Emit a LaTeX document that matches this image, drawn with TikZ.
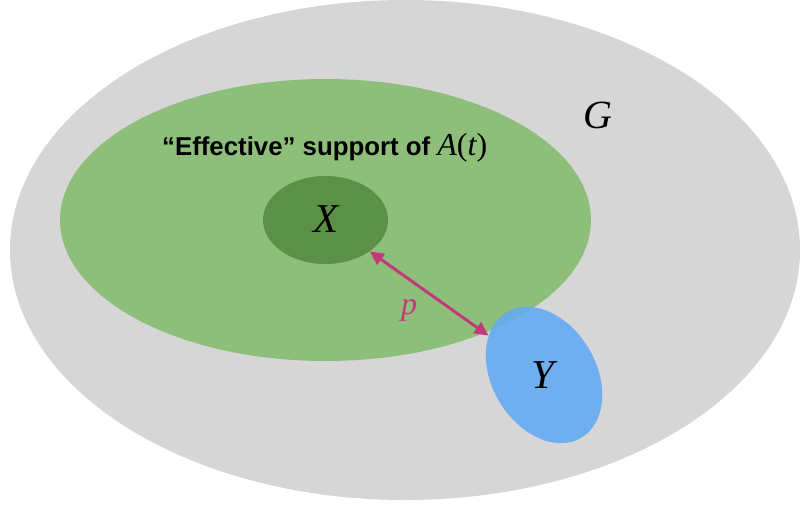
\documentclass[tikz,border=0pt]{standalone}
\usepackage{fontspec}
\setmainfont{Liberation Serif}
\newfontfamily\labelsans{Liberation Sans}
\usetikzlibrary{shapes.geometric,arrows.meta}
\definecolor{bggray}{RGB}{214,214,214}
\definecolor{suppgreen}{RGB}{141,191,122}
\definecolor{xgreen}{RGB}{91,145,70}
\definecolor{yblue}{RGB}{100,170,242}
\definecolor{pmag}{RGB}{194,58,122}
\tikzset{
  blob/.style={ellipse, inner sep=0pt, draw=none},
  biglabel/.style={font=\fontsize{41}{41}\selectfont\itshape, text=black, inner sep=0pt},
  distarrow/.style={pmag, line width=3pt, {Triangle[length=14pt,width=13pt]}-{Triangle[length=14pt,width=13pt]}},
}
\begin{document}
\begin{tikzpicture}[x=1pt,y=1pt]
\useasboundingbox (0,0) rectangle (800,507);
\begin{scope}
\clip (0,0) rectangle (800,507);
\node[blob, fill=bggray, minimum width=790pt, minimum height=500pt] (G) at (405,257) {};
\end{scope}
\node[blob, fill=suppgreen, minimum width=531pt, minimum height=282pt] (S) at (325.5,287) {};
\node[blob, fill=xgreen, minimum width=125pt, minimum height=88pt] (X) at (325.5,287) {};
\node[biglabel] (Xl) at (326,288) {X};
\node[blob, fill=yblue, fill opacity=0.9, minimum width=104pt, minimum height=146pt, rotate=30.7] (Yb) at (544,132) {};
\node[biglabel] (Yl) at (543,132) {Y};
\node[biglabel, font=\fontsize{40}{40}\selectfont\itshape] (Gl) at (598,392) {G};
\draw[distarrow] (X) -- (Yb);
\node[text=pmag, font=\fontsize{32}{32}\selectfont\itshape, inner sep=0pt] (p) at (409,197) {p};
\node[anchor=base west, inner sep=0pt] (T) at (162,352) {{\labelsans\bfseries\fontsize{25.8}{25.8}\selectfont “Effective” support of }{\fontsize{32}{32}\selectfont\itshape A}{\fontsize{32}{32}\selectfont(}{\fontsize{32}{32}\selectfont\itshape t}{\fontsize{32}{32}\selectfont)}};
\end{tikzpicture}
\end{document}
